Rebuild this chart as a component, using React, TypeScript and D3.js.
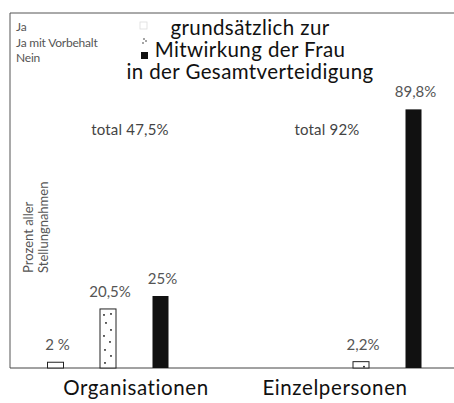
import React from 'react'
import * as d3 from 'd3'

const groups = ['Organisationen', 'Einzelpersonen']
const series = ['Ja', 'Ja mit Vorbehalt', 'Nein']
const orgValues = [2, 20.5, 25]
const einzelValues = [null, 2.2, 89.8]
const orgLabels = ['2 %', '20,5%', '25%']
const einzelLabels = ['', '2,2%', '89,8%']
const totals = ['total 47,5%', 'total 92%']
const titleLines = ['grundsätzlich zur', 'Mitwirkung der Frau', 'in der Gesamtverteidigung']
const axisLabel = ['Prozent aller', 'Stellungnahmen']

const W = 454
const H = 403
const baseY = 368
const font = 'Lato, "Open Sans", sans-serif'

export default function App() {
  const yScale = d3.scaleLinear().domain([0, 100]).range([baseY, 80])
  const xGroup = d3.scalePoint().domain(groups).range([108, 361])
  const xSeries = d3.scalePoint().domain(series).range([-52.5, 52.5])
  const barW = 16

  const rows = groups.map((g, gi) => ({
    group: g,
    values: gi === 0 ? orgValues : einzelValues,
    labels: gi === 0 ? orgLabels : einzelLabels,
  }))

  // scattered dots inside the "Ja mit Vorbehalt" bars
  const dots = [[4, 5], [11, 4], [6, 13], [11, 20], [4, 26], [10, 32], [5, 40], [11, 46], [5, 53]]

  return (
    <svg width={W} height={H} style={{ position: 'absolute', left: 0, top: 0, background: '#fff' }}>
      {/* frame */}
      <line x1={10} x2={W} y1={13} y2={13} stroke="#555" strokeWidth={1} />
      <line x1={10} x2={10} y1={13} y2={baseY} stroke="#555" strokeWidth={1} />
      <line x1={10} x2={W} y1={baseY} y2={baseY} stroke="#444" strokeWidth={1} />

      {/* legend */}
      {series.map((s, i) => (
        <text key={s} x={16} y={31 + i * 15.5} fontFamily={font} fontSize={12} fill="#555" letterSpacing={-0.2}>{s}</text>
      ))}
      <rect x={140} y={22} width={7} height={7} fill="none" stroke="#ddd" strokeWidth={0.8} />
      <circle cx={144} cy={39} r={0.8} fill="#333" />
      <circle cx={146} cy={41} r={0.8} fill="#333" />
      <circle cx={143} cy={43} r={0.8} fill="#333" />
      <rect x={141} y={52} width={7} height={7} fill="#111" />

      {/* title */}
      {titleLines.map((t, i) => (
        <text key={t} x={250} y={35 + i * 22} textAnchor="middle" fontFamily={font} fontSize={20.5} fill="#111" letterSpacing={0.4}>{t}</text>
      ))}

      {/* axis label */}
      {axisLabel.map((t, i) => (
        <text key={t} transform={`translate(${33 + i * 15},273) rotate(-90)`} fontFamily={font} fontSize={13} fill="#555">{t}</text>
      ))}

      {/* totals */}
      {totals.map((t, i) => (
        <text key={t} x={(i === 0 ? 130 : 327)} y={135} textAnchor="middle" fontFamily={font} fontSize={15} fill="#444" letterSpacing={0.2}>{t}</text>
      ))}

      {/* bars */}
      {rows.map(r => (
        <g key={r.group} transform={`translate(${xGroup(r.group)},0)`}>
          {r.values.map((v, i) => {
            if (v == null) return null
            const cx = xSeries(series[i]) as number
            const y = yScale(v)
            const h = baseY - y
            return (
              <g key={i}>
                {i === 0 && <rect x={cx - barW / 2} y={y} width={barW} height={h} fill="#fff" stroke="#222" strokeWidth={1} />}
                {i === 1 && (
                  <g>
                    <rect x={cx - barW / 2} y={y} width={barW} height={h} fill="#fff" stroke="#222" strokeWidth={1} />
                    {dots.filter(d => d[1] < h - 2).map((d, k) => (
                      <circle key={k} cx={cx - barW / 2 + d[0]} cy={y + d[1] + 1} r={0.9} fill="#111" />
                    ))}
                  </g>
                )}
                {i === 2 && <rect x={cx - barW / 2} y={y} width={barW} height={h} fill="#111" />}
                <text x={cx + 2} y={y - 12} textAnchor="middle" fontFamily={font} fontSize={15} fill="#555">{r.labels[i]}</text>
              </g>
            )
          })}
        </g>
      ))}

      {/* category labels */}
      {groups.map((g, i) => (
        <text key={g} x={i === 0 ? 136 : 335} y={395} textAnchor="middle" fontFamily={font} fontSize={20.5} fill="#111" letterSpacing={0.6}>{g}</text>
      ))}
    </svg>
  )
}
